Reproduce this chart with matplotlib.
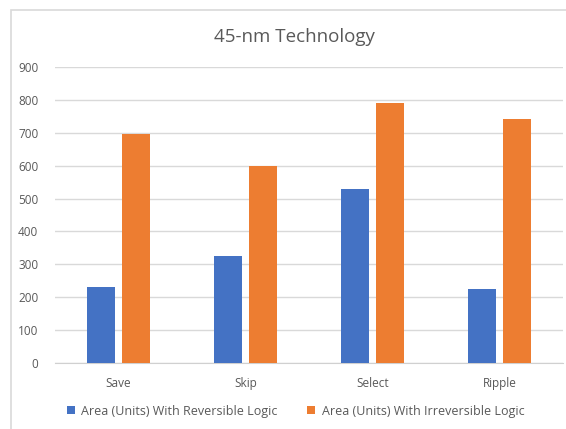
import matplotlib
matplotlib.use('Agg')
import matplotlib.pyplot as plt
import numpy as np
from matplotlib.patches import Rectangle

plt.rcParams['font.family'] = ['Open Sans', 'DejaVu Sans']

# values
categories = ['Save', 'Skip', 'Select', 'Ripple']
reversible = [232, 325, 530, 226]
irreversible = [697, 600, 790, 742]
series_names = ['Area (Units) With Reversible Logic', 'Area (Units) With Irreversible Logic']
yticks = [0, 100, 200, 300, 400, 500, 600, 700, 800, 900]

fig = plt.figure(figsize=(5.66, 4.29), dpi=100)

# chart border (cropped on the right and bottom)
fig.patches.append(Rectangle((11 / 566, -0.1), 1.2, 1.1 - 10 / 429, transform=fig.transFigure,
                             fill=False, edgecolor='#d9d9d9', linewidth=1.2, zorder=0))

ax = fig.add_axes([55 / 566, 66 / 429, 508 / 566, 296 / 429])

x = np.arange(len(categories))
w = 0.22
ax.bar(x - 0.138, reversible, w, color='#4472c4', label=series_names[0], zorder=3)
ax.bar(x + 0.138, irreversible, w, color='#ed7d31', label=series_names[1], zorder=3)

ax.set_xlim(-0.5, len(categories) - 0.5)
ax.set_ylim(0, 900)
ax.set_yticks(yticks)
ax.set_xticks(x)
ax.set_xticklabels(categories)
ax.grid(axis='y', color='#d9d9d9', linewidth=1, zorder=0)
for s in ['top', 'right', 'left']:
    ax.spines[s].set_visible(False)
ax.spines['bottom'].set_color('#d0d0d0')
ax.tick_params(axis='both', length=0, labelsize=8.5, colors='#595959')
ax.tick_params(axis='y', pad=12)
ax.tick_params(axis='x', pad=10)

fig.text(0.52, 1 - 37 / 429, '45-nm Technology', ha='center', va='center',
         fontsize=13.5, color='#595959')

fig.legend(loc='center', bbox_to_anchor=(0.522, 1 - 411 / 429), ncol=2, frameon=False,
           fontsize=9, labelcolor='#595959', handlelength=0.65, handleheight=0.65,
           handletextpad=0.5, columnspacing=2.4)

fig.savefig('out.png', dpi=100)
